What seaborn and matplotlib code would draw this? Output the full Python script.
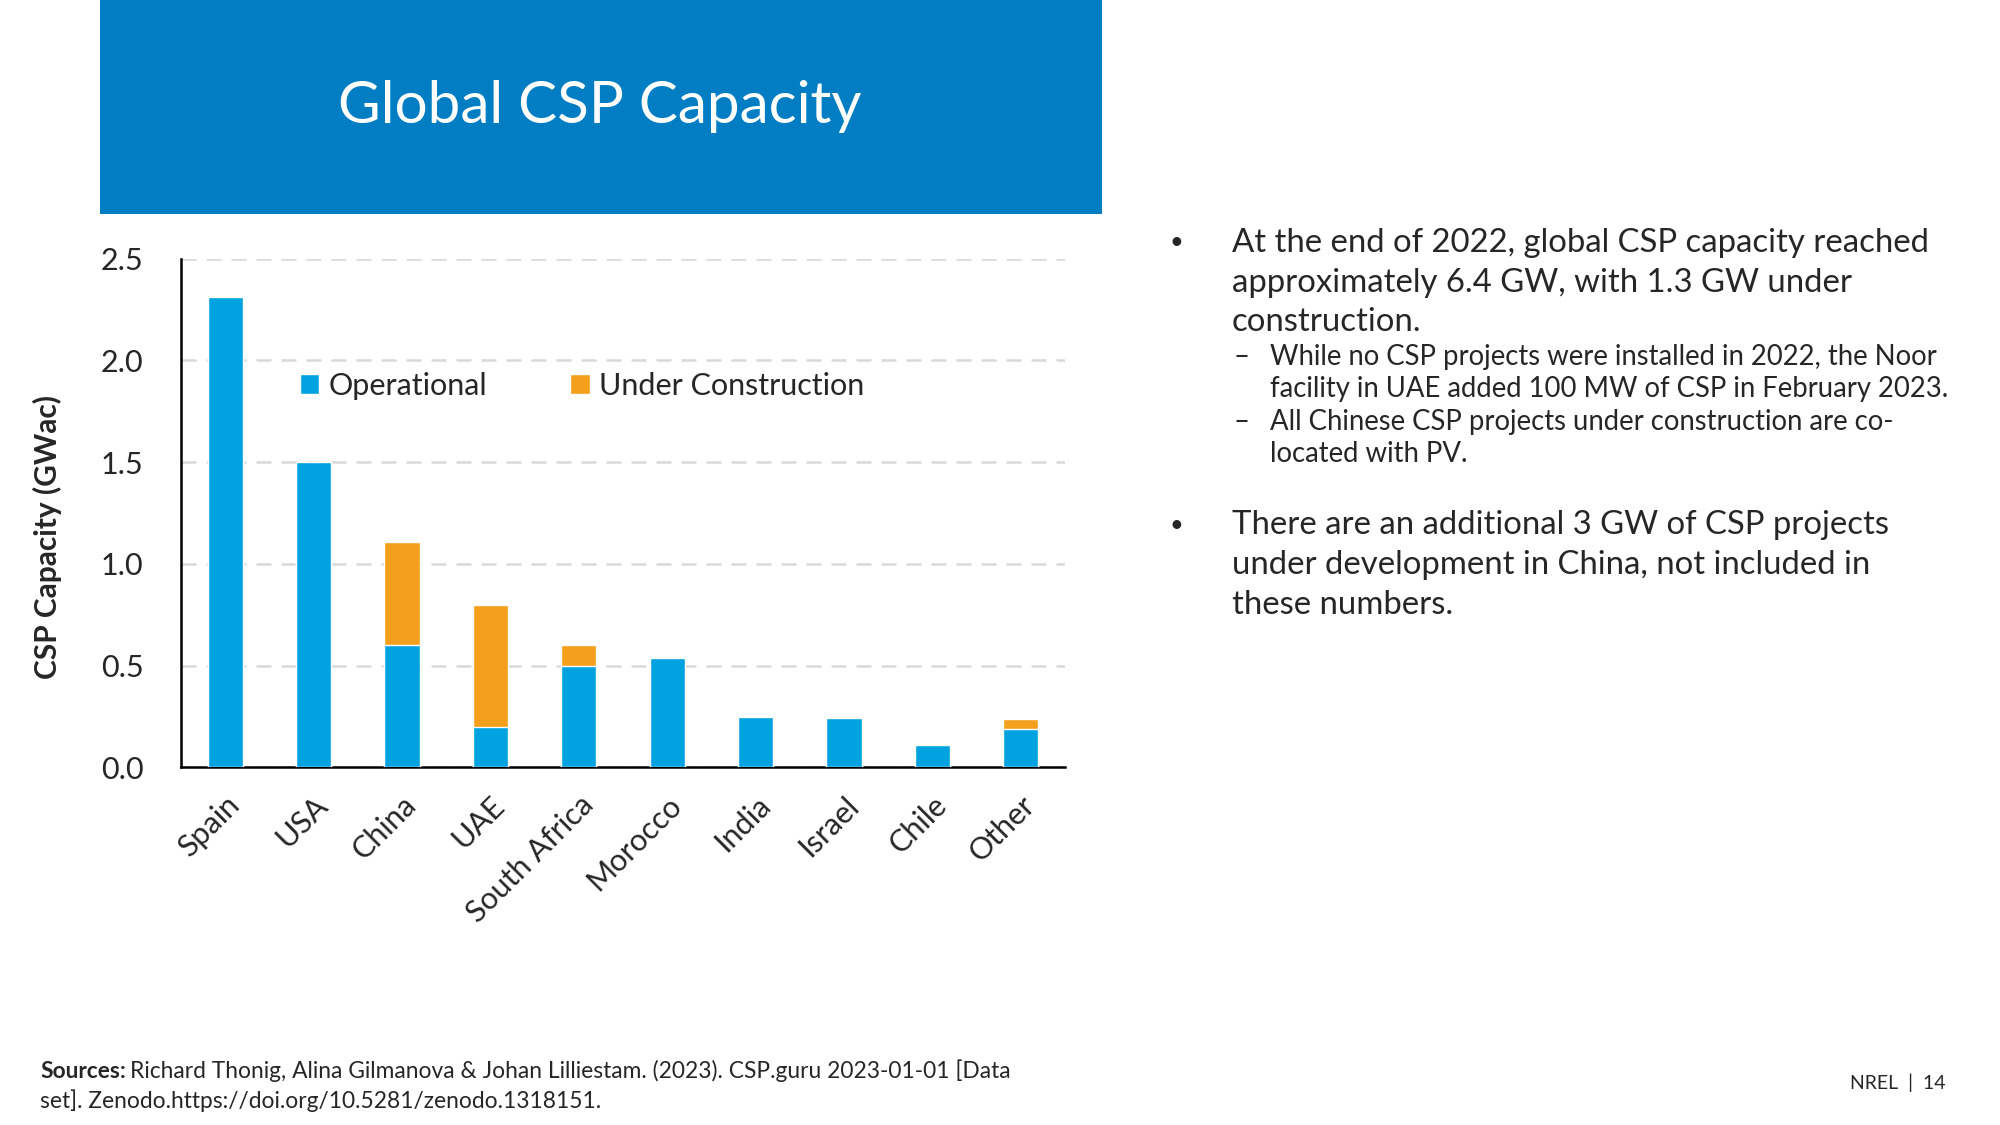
import pandas as pd
import matplotlib
matplotlib.use("Agg")
import matplotlib.pyplot as plt
from matplotlib.patches import Patch, Rectangle
import seaborn as sns

# Chart data (GWac)
countries = ["Spain", "USA", "China", "UAE", "South Africa", "Morocco",
             "India", "Israel", "Chile", "Other"]
operational = [2.31, 1.50, 0.60, 0.20, 0.50, 0.535, 0.245, 0.24, 0.11, 0.19]
under_construction = [0.0, 0.0, 0.505, 0.60, 0.10, 0.0, 0.0, 0.0, 0.0, 0.045]
y_ticks = [0.0, 0.5, 1.0, 1.5, 2.0, 2.5]

df = pd.DataFrame({"country": countries,
                   "Operational": operational,
                   "Under Construction": under_construction})
df["total"] = df["Operational"] + df["Under Construction"]

BLUE = "#00A3E0"
ORANGE = "#F5A01C"
BANNER = "#007DC3"

sns.set_theme(style="white")
plt.rcParams["font.family"] = ["Lato", "DejaVu Sans"]

fig = plt.figure(figsize=(20, 11.25), dpi=100)

# title banner
fig.patches.append(Rectangle((0.05, 0.81), 0.501, 0.19, transform=fig.transFigure,
                             facecolor=BANNER, edgecolor="none", zorder=0))
fig.text(0.3, 0.905, "Global CSP Capacity", color="white", fontsize=42,
         fontweight="normal", ha="center", va="center")

ax = fig.add_axes([0.0905, 0.318, 0.442, 0.452])

# stacked bars: total (orange) underneath, operational (blue) on top
sns.barplot(data=df, x="country", y="total", color=ORANGE, width=0.4,
            saturation=1, ax=ax, zorder=3)
sns.barplot(data=df, x="country", y="Operational", color=BLUE, width=0.4,
            saturation=1, ax=ax, zorder=4)

ax.set_ylim(0, 2.5)
ax.set_xlim(-0.5, len(countries) - 0.5)
ax.set_yticks(y_ticks)
ax.set_yticklabels([f"{t:.1f}" for t in y_ticks], fontsize=22)
ax.set_xticks(range(len(countries)))
ax.set_xticklabels(countries, fontsize=22, rotation=45, ha="right",
                   rotation_mode="anchor")
ax.tick_params(axis="both", length=0)
ax.tick_params(axis="x", pad=17)
ax.tick_params(axis="y", pad=27)
ax.set_xlabel("")
ax.set_ylabel("")
ax.yaxis.grid(True, color="#D9D9D9", linestyle=(0, (6, 4)), linewidth=1.8, zorder=0)
ax.xaxis.grid(False)
for side in ["top", "right"]:
    ax.spines[side].set_visible(False)
for side in ["left", "bottom"]:
    ax.spines[side].set_color("black")
    ax.spines[side].set_linewidth(1.8)
ax.set_axisbelow(True)

fig.text(0.0235, 0.523, "CSP Capacity (GWac)", rotation=90, fontsize=21.5,
         fontweight="bold", ha="center", va="center")

handles = [Patch(facecolor=BLUE, label="Operational"),
           Patch(facecolor=ORANGE, label="Under Construction")]
ax.legend(handles=handles, loc="center left", bbox_to_anchor=(0.103, 0.75), ncol=2,
          frameon=False, fontsize=22, handlelength=0.65, handleheight=0.65,
          handletextpad=0.3, columnspacing=2.7)

# right-hand bullet text (y measured from the top of the slide)
main_fs = 23.7
sub_fs = 19.8
text_items = []
bullets = [
    (0.216, ["At the end of 2022, global CSP capacity reached",
             "approximately 6.4 GW, with 1.3 GW under",
             "construction."]),
    (0.467, ["There are an additional 3 GW of CSP projects",
             "under development in China, not included in",
             "these numbers."]),
]
for y0, lines in bullets:
    fig.text(0.585, 1 - y0, "•", fontsize=17, ha="left", va="center")
    for i, line in enumerate(lines):
        fig.text(0.616, 1 - (y0 + i * 0.0352), line, fontsize=main_fs,
                 ha="left", va="center")

subs = [
    (0.317, ["While no CSP projects were installed in 2022, the Noor",
             "facility in UAE added 100 MW of CSP in February 2023."]),
    (0.375, ["All Chinese CSP projects under construction are co-",
             "located with PV."]),
]
for y0, lines in subs:
    fig.text(0.617, 1 - y0, "–", fontsize=sub_fs, ha="left", va="center")
    for i, line in enumerate(lines):
        fig.text(0.635, 1 - (y0 + i * 0.029), line, fontsize=sub_fs,
                 ha="left", va="center")

# footer
fig.canvas.draw()
renderer = fig.canvas.get_renderer()
src = fig.text(0.02, 1 - 0.952, "Sources:", fontsize=16.4, fontweight="bold",
               ha="left", va="center")
bb = src.get_window_extent(renderer=renderer)
x_after = (bb.x1 + 4) / fig.bbox.width
fig.text(x_after, 1 - 0.952,
         "Richard Thonig, Alina Gilmanova & Johan Lilliestam. (2023). CSP.guru 2023-01-01 [Data",
         fontsize=16.4, ha="left", va="center")
fig.text(0.02, 1 - 0.978, "set]. Zenodo.https://doi.org/10.5281/zenodo.1318151.",
         fontsize=16.4, ha="left", va="center")
fig.text(0.973, 1 - 0.962, "NREL  |  14", fontsize=14, ha="right", va="center")

fig.savefig("out.png", dpi=100)
